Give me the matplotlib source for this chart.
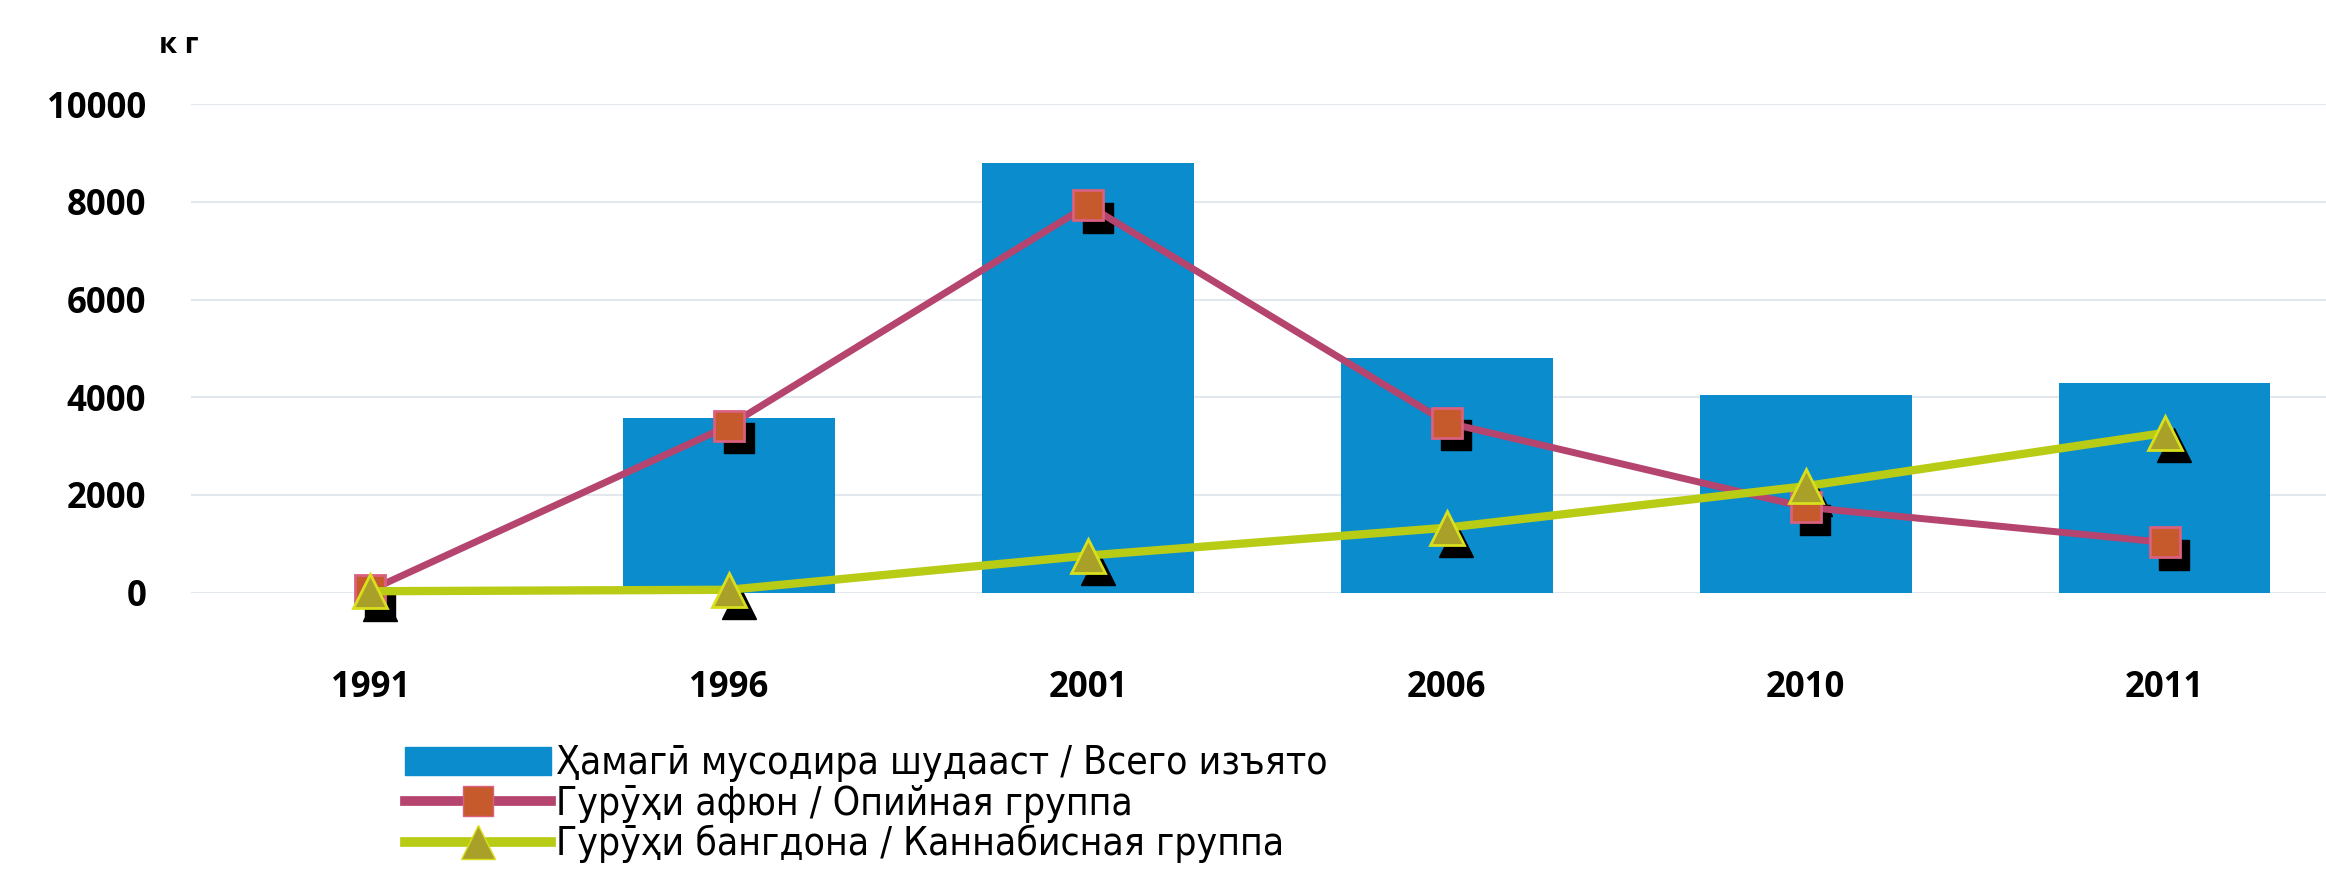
import matplotlib
matplotlib.use('Agg')
import matplotlib.pyplot as plt
from matplotlib.transforms import offset_copy
from matplotlib.lines import Line2D
from matplotlib.patches import Patch
from matplotlib.font_manager import FontProperties

years = ['1991', '1996', '2001', '2006', '2010', '2011']
total = [0, 3580, 8800, 4800, 4050, 4300]
opium = [50, 3420, 7930, 3480, 1750, 1030]
cannabis = [30, 60, 760, 1330, 2180, 3270]

yticks = [0, 2000, 4000, 6000, 8000, 10000]

label_total = 'Ҳамагӣ мусодира шудааст / Всего изъято'
label_opium = 'Гурӯҳи афюн / Опийная группа'
label_cannabis = 'Гурӯҳи бангдона / Каннабисная группа'

bar_color = '#0b8ccc'
opium_line = '#b5446e'
opium_face = '#c65a2c'
opium_edge = '#d9607e'
can_line = '#b8cc16'
can_face = '#a8a028'
can_edge = '#d8e01e'

tick_font = ['Open Sans', 'DejaVu Sans']

fig = plt.figure(figsize=(23.26, 8.82), dpi=100)
ax = fig.add_axes([0.082, 0.328, 0.918, 0.554])

x = list(range(len(years)))
ax.bar(x, total, width=0.59, color=bar_color, linewidth=0, zorder=2)

# black drop shadows behind the markers
shadow = offset_copy(ax.transData, fig=fig, x=7, y=-9, units='points')
ax.plot(x, opium, linestyle='none', marker='s', markersize=22, color='black',
        transform=shadow, zorder=3, clip_on=False)
ax.plot(x, cannabis, linestyle='none', marker='^', markersize=24, color='black',
        transform=shadow, zorder=3, clip_on=False)

ax.plot(x, opium, color=opium_line, linewidth=5, marker='s', markersize=22,
        markerfacecolor=opium_face, markeredgecolor=opium_edge, markeredgewidth=2,
        zorder=4, clip_on=False)
ax.plot(x, cannabis, color=can_line, linewidth=6, marker='^', markersize=24,
        markerfacecolor=can_face, markeredgecolor=can_edge, markeredgewidth=2,
        zorder=5, clip_on=False)

ax.set_xlim(-0.5, 5.45)
ax.set_ylim(0, 10000)
ax.set_yticks(yticks)
ax.set_xticks(x)
ax.set_xticklabels(years)
for lab in ax.get_yticklabels() + ax.get_xticklabels():
    lab.set_family(tick_font)
    lab.set_fontsize(25)
    lab.set_fontweight('bold')
ax.tick_params(axis='y', length=0, pad=32)
ax.tick_params(axis='x', length=0, pad=56)
ax.grid(axis='y', color='#e3e7ee', linewidth=1.5, zorder=0)
ax.set_axisbelow(True)
for s in ax.spines.values():
    s.set_visible(False)

fig.text(0.077, 0.948, 'к г', fontsize=21, fontweight='bold', family=tick_font,
         ha='center', va='center')

handles = [
    Patch(facecolor=bar_color, edgecolor=bar_color),
    Line2D([], [], color=opium_line, linewidth=7, marker='s', markersize=22,
           markerfacecolor=opium_face, markeredgecolor=opium_edge),
    Line2D([], [], color=can_line, linewidth=7, marker='^', markersize=24,
           markerfacecolor=can_face, markeredgecolor=can_edge),
]
leg_prop = FontProperties(family='DejaVu Sans', stretch='condensed', size=28)
fig.legend(handles, [label_total, label_opium, label_cannabis],
           loc='upper left', bbox_to_anchor=(0.174, 0.156), frameon=False,
           prop=leg_prop, handlelength=3.75, handleheight=0.75,
           handletextpad=0.15, labelspacing=0.06, borderpad=0, borderaxespad=0)

fig.savefig('out.png', dpi=100)
